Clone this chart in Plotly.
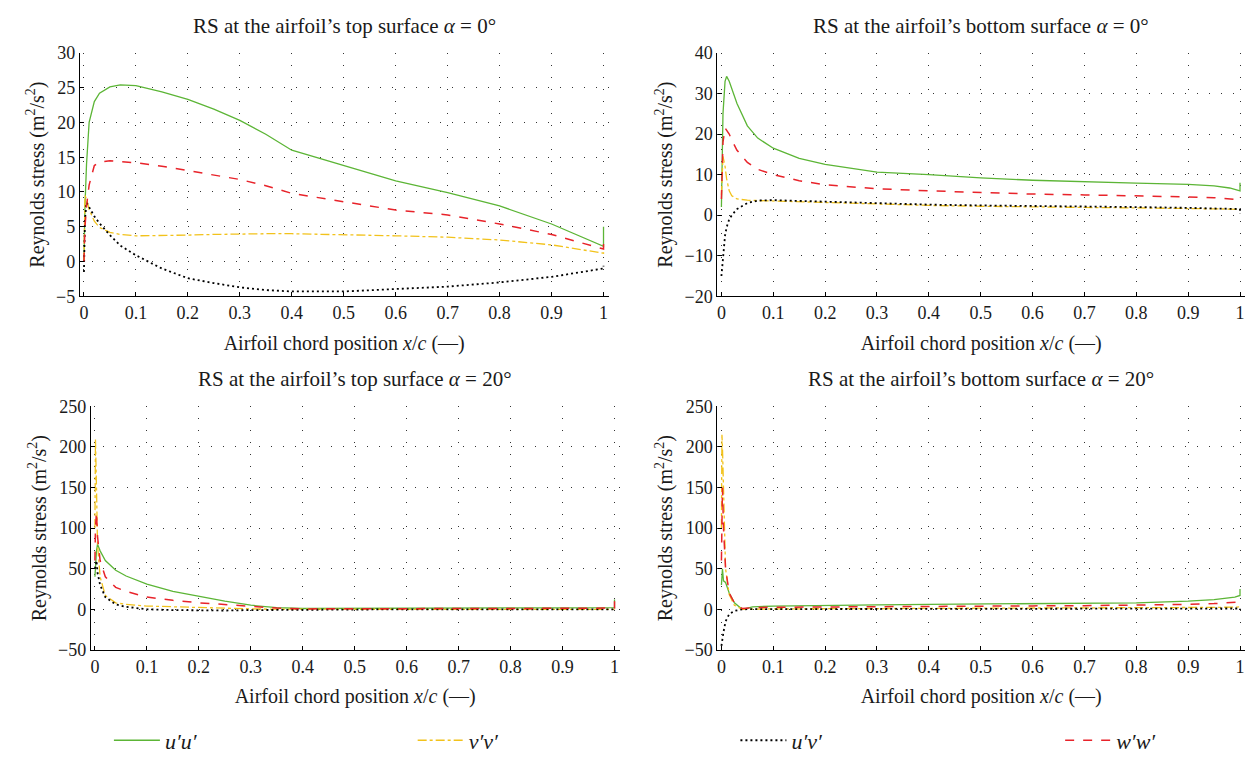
import plotly.graph_objects as go

# ---------- data ----------
# Panel A: top surface, alpha = 0
xa = [0, 0.002, 0.005, 0.01, 0.02, 0.03, 0.05, 0.07, 0.1, 0.15, 0.2, 0.25, 0.3, 0.35, 0.4, 0.5, 0.6, 0.7, 0.8, 0.9, 1.0, 1.0]
a_uu = [0, 8, 14, 20, 23, 24.2, 25.1, 25.4, 25.3, 24.4, 23.3, 21.9, 20.3, 18.3, 16.0, 13.8, 11.6, 9.9, 8.0, 5.4, 2.2, 5.0]
a_vv = [0, 9.5, 9.0, 7.5, 5.8, 4.9, 4.2, 3.9, 3.7, 3.7, 3.8, 3.9, 4.0, 4.0, 4.0, 3.9, 3.7, 3.5, 3.1, 2.4, 1.2, 1.6]
a_uv = [-1.5, 6.0, 8.5, 7.8, 6.5, 5.5, 3.8, 2.3, 0.9, -1.0, -2.4, -3.1, -3.7, -4.1, -4.3, -4.3, -4.0, -3.6, -3.0, -2.2, -1.0, -0.6]
a_ww = [0, 5, 8, 11, 13.8, 14.3, 14.5, 14.4, 14.2, 13.7, 13.1, 12.5, 11.8, 10.9, 9.8, 8.6, 7.4, 6.7, 5.4, 3.9, 1.8, 3.0]

# Panel B: bottom surface, alpha = 0
xb = [0, 0.003, 0.007, 0.01, 0.015, 0.02, 0.03, 0.05, 0.07, 0.1, 0.15, 0.2, 0.3, 0.4, 0.5, 0.6, 0.7, 0.8, 0.9, 0.95, 0.98, 1.0, 1.0]
b_uu = [2, 25, 33, 34.2, 33, 31, 27.5, 22, 19, 16.5, 14, 12.5, 10.6, 10.0, 9.2, 8.6, 8.2, 7.9, 7.6, 7.2, 6.7, 6.0, 8.0]
b_vv = [5, 14.5, 12, 9, 6, 4.8, 4, 3.7, 3.6, 3.5, 3.2, 3.0, 2.7, 2.4, 2.2, 2.0, 1.9, 1.8, 1.7, 1.6, 1.5, 1.4, 1.4]
b_uv = [-15, -10, -5, -3, -1, 0, 1.5, 3, 3.6, 3.7, 3.5, 3.3, 3.0, 2.6, 2.4, 2.3, 2.2, 2.0, 1.8, 1.7, 1.6, 1.5, 0.3]
b_ww = [4, 18, 21.5, 21, 20, 18.5, 16, 13, 11.3, 10, 8.5, 7.5, 6.5, 6.0, 5.6, 5.2, 5.0, 4.8, 4.5, 4.3, 4.1, 3.8, 4.5]

# Panel C: top surface, alpha = 20
xc = [0, 0.001, 0.003, 0.005, 0.01, 0.02, 0.04, 0.06, 0.1, 0.15, 0.2, 0.25, 0.3, 0.35, 0.4, 0.5, 0.6, 0.7, 0.8, 0.9, 1.0, 1.0]
c_uu = [40, 55, 72, 80, 72, 60, 48, 41, 31, 22, 16, 10, 5, 2, 1, 1, 1, 1.2, 1.5, 1.8, 2, 12]
c_vv = [100, 210, 150, 80, 40, 17, 8, 6, 4, 3, 2, 1, 0.5, 0.2, 0, 0, 0, 0, 0, 0, 0, 0]
c_uv = [50, 55, 60, 45, 30, 15, 6, 3, 0, -1, -1.5, -1.5, -1, -0.7, -0.5, 0, 0, 0, 0, 0, 0, 0]
c_ww = [60, 100, 120, 90, 60, 40, 27, 22, 15, 11, 8, 6, 4, 1.5, 0.5, 0.5, 0.6, 0.8, 1.0, 1.2, 1.5, 10]

# Panel D: bottom surface, alpha = 20
xd = [0, 0.001, 0.002, 0.004, 0.008, 0.015, 0.025, 0.04, 0.06, 0.1, 0.2, 0.3, 0.4, 0.5, 0.6, 0.7, 0.8, 0.9, 0.95, 0.99, 1.0, 1.0]
d_uu = [30, 45, 50, 35, 33, 20, 8, 0, 3, 4, 5, 5.5, 6, 6.5, 7, 7.5, 8, 10, 12, 15, 17, 25]
d_vv = [100, 215, 200, 150, 50, 18, 5, 0, 0.3, 0.5, 0.7, 0.8, 1, 1, 1.2, 1.4, 1.6, 2, 2.3, 2.7, 3, 3]
d_uv = [-45, -40, -35, -28, -15, -6, -2, 0, 0.2, 0.3, 0.4, 0.4, 0.5, 0.5, 0.6, 0.7, 0.8, 0.9, 1, 1, 1, -1]
d_ww = [60, 110, 150, 100, 50, 20, 8, 1, 2, 2.5, 3, 3, 3.5, 4, 4.2, 4.5, 5, 6, 7, 8, 9, 10]

titles = [
    "RS at the airfoil’s top surface <i>α</i> = 0°",
    "RS at the airfoil’s bottom surface <i>α</i> = 0°",
    "RS at the airfoil’s top surface <i>α</i> = 20°",
    "RS at the airfoil’s bottom surface <i>α</i> = 20°",
]
y_ranges = [[-5, 30], [-20, 40], [-50, 250], [-50, 250]]
y_dticks = [5, 10, 50, 50]
x_ticks = [0, 0.1, 0.2, 0.3, 0.4, 0.5, 0.6, 0.7, 0.8, 0.9, 1]
x_ticklabels = ["0", "0.1", "0.2", "0.3", "0.4", "0.5", "0.6", "0.7", "0.8", "0.9", "1"]
series_names = ["<i>u′u′</i>", "<i>v′v′</i>", "<i>u′v′</i>", "<i>w′w′</i>"]

panels = [
    (xa, [a_uu, a_vv, a_uv, a_ww]),
    (xb, [b_uu, b_vv, b_uv, b_ww]),
    (xc, [c_uu, c_vv, c_uv, c_ww]),
    (xd, [d_uu, d_vv, d_uv, d_ww]),
]

# ---------- style ----------
W, H = 1250, 767
FONT = "Liberation Serif"
TXT = "#1a1a1a"
colors = ["#5cb536", "#f2c21b", "#000000", "#e8232a"]
dashes = ["solid", "dashdot", "2px,3px", "dash"]
widths = [1.3, 1.3, 1.8, 1.5]
legend_names = ["legend", "legend2", "legend3", "legend4"]
legend_x_px = [108, 412, 735, 1060]

# pixel boxes (left, right, top, bottom)
boxes = [(79, 608, 44, 294), (717, 1245, 44, 294), (90, 619, 407, 657), (717, 1245, 407, 657)]

fig = go.Figure()
for p, (xs, ys) in enumerate(panels):
    for s in range(4):
        fig.add_trace(go.Scatter(
            x=xs, y=ys[s], mode="lines", name=series_names[s],
            line=dict(color=colors[s], dash=dashes[s], width=widths[s]),
            xaxis="x" if p == 0 else f"x{p+1}", yaxis="y" if p == 0 else f"y{p+1}",
            showlegend=(p == 0), legend=legend_names[s],
        ))

layout = dict(
    width=W, height=H, margin=dict(l=0, r=0, t=0, b=0),
    paper_bgcolor="white", plot_bgcolor="white",
    font=dict(family=FONT, size=18, color=TXT),
    showlegend=True,
)
for s, ln in enumerate(legend_names):
    layout[ln] = dict(orientation="h", x=legend_x_px[s] / W, y=1 - 750 / H,
                      xanchor="left", yanchor="middle",
                      font=dict(size=22, family=FONT, color=TXT),
                      bgcolor="rgba(0,0,0,0)", itemwidth=46)

annotations = []
for p, (l, r, t, b) in enumerate(boxes):
    xk = "xaxis" if p == 0 else f"xaxis{p+1}"
    yk = "yaxis" if p == 0 else f"yaxis{p+1}"
    span = (r - l)
    x0px = 4.0
    x1px = span - 5.0
    unit = (x1px - x0px)
    xr = [-x0px / unit, (span - x0px) / unit]
    axis_common = dict(
        showline=True, linecolor="black", linewidth=1.2, mirror=False,
        ticks="inside", ticklen=4, tickcolor="black", tickwidth=1,
        showgrid=True, gridcolor="#333", gridwidth=1, griddash="1px,11px",
        zeroline=False, tickfont=dict(family=FONT, size=18, color=TXT),
    )
    layout[xk] = dict(
        domain=[l / W, r / W], range=xr, tickvals=x_ticks, ticktext=x_ticklabels,
        anchor="y" if p == 0 else f"y{p+1}",
        title=dict(text="Airfoil chord position <i>x</i>/<i>c</i> (—)", standoff=13,
                   font=dict(family=FONT, size=20, color=TXT)),
        **axis_common,
    )
    layout[yk] = dict(
        domain=[1 - b / H, 1 - t / H], range=y_ranges[p], dtick=y_dticks[p], tick0=0,
        anchor="x" if p == 0 else f"x{p+1}",
        title=dict(text="Reynolds stress (m<sup>2</sup>/s<sup>2</sup>)", standoff=6,
                   font=dict(family=FONT, size=20, color=TXT)),
        **axis_common,
    )
    annotations.append(dict(
        text=titles[p], x=(l + r) / 2 / W, y=1 - (t - 28) / H, xref="paper", yref="paper",
        xanchor="center", yanchor="middle", showarrow=False,
        font=dict(family=FONT, size=21, color=TXT),
    ))
layout["annotations"] = annotations
fig.update_layout(**layout)
fig.write_html("out.html")
